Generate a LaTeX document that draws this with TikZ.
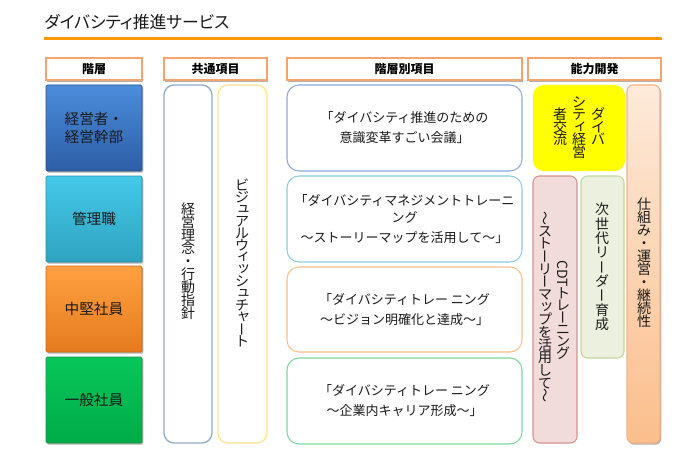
\documentclass[tikz,border=0pt]{standalone}
\usepackage{fontspec}
\usepackage{graphicx}
\setmainfont{Noto Sans CJK JP}
\newfontfamily\jpp{Noto Sans CJK JP}[RawFeature=+palt]
\usetikzlibrary{shadows}

\definecolor{ttlorange}{HTML}{FF9900}
\definecolor{hdrline}{HTML}{F4A46C}
\definecolor{blueT}{HTML}{4C8DDC}\definecolor{blueB}{HTML}{2C5EA6}\definecolor{blueL}{HTML}{2A5288}
\definecolor{cyanT}{HTML}{45C8E8}\definecolor{cyanB}{HTML}{2EA3C0}\definecolor{cyanL}{HTML}{2B8FA8}
\definecolor{oranT}{HTML}{FFA142}\definecolor{oranB}{HTML}{E57B1E}\definecolor{oranL}{HTML}{C86A1A}
\definecolor{greenT}{HTML}{08C65A}\definecolor{greenB}{HTML}{00AC48}\definecolor{greenL}{HTML}{1E8F4A}
\definecolor{c1line}{HTML}{8EA8CC}
\definecolor{c2line}{HTML}{FFE38C}
\definecolor{m1line}{HTML}{8EAADC}
\definecolor{m2line}{HTML}{8CCCDD}
\definecolor{m3line}{HTML}{FBBE8C}
\definecolor{m4line}{HTML}{7ED6A0}
\definecolor{yel}{HTML}{FFFF00}
\definecolor{cdtfill}{HTML}{F2DCDB}\definecolor{cdtline}{HTML}{D6918F}
\definecolor{ngfill}{HTML}{EBF1DE}\definecolor{ngline}{HTML}{C3D69B}
\definecolor{pT}{HTML}{FDEADA}\definecolor{pB}{HTML}{FBBE8C}\definecolor{pline}{HTML}{F5B183}
\definecolor{txt}{HTML}{1A1A1A}

% vertical text machinery
\makeatletter
\newdimen\vtp \newdimen\vtw \newdimen\vtd \newbox\vtbox
\def\vt@end{\vt@end}
\newcommand\vrow[1]{%
  \setbox\vtbox=\hbox{\vrule height .88em depth .12em width 0pt\relax #1}%
  \vtd=\ht\vtbox \advance\vtd by \dp\vtbox
  \ifdim\vtd>1.5em\relax\else\vtd=\vtp\fi
  \vbox to \vtd{\vss\hbox to \vtw{\hss\box\vtbox\hss}\vss}}
\def\vt@loop#1{\ifx\vt@end#1\else\vrow{#1}\expandafter\vt@loop\fi}
\newcommand\vtext[2]{\vbox{\offinterlineskip\vtp=#1\relax\vtw=1.3em\relax\vt@loop#2\vt@end}}
\makeatother
\newcommand\vl{\rotatebox[origin=c]{90}{\vrule height .88em depth .12em width 0pt ー}}
\newcommand\vw{\rotatebox[origin=c]{90}{\vrule height .88em depth .12em width 0pt ～}}
\newcommand\vlat[1]{\rotatebox[origin=c]{-90}{\vrule height .88em depth .12em width 0pt #1}}
\newcommand\sk[1]{\raisebox{.14em}[0pt][0pt]{\hspace{.22em}#1}}

% box node from corners (px)
\newcommand\bx[7][]{\node[#1, inner sep=0pt, outer sep=0pt,
  minimum width={(#4-#2)*0.75pt}, minimum height={(#5-#3)*0.75pt}]
  (#6) at ({(#2+#4)/2},{(#3+#5)/2}) {#7};}

\begin{document}
\begin{tikzpicture}[x=0.75pt,y=-0.75pt,
  sh/.style={drop shadow={shadow xshift=1pt,shadow yshift=-1.3pt,opacity=.3,fill=black}},
  hdr/.style={draw=hdrline, line width=0.9pt, fill=white, sh,
    font=\bfseries\fontsize{9}{11}\selectfont, text=black},
  lvl/.style={draw=#1L, line width=0.5pt, top color=#1T, bottom color=#1B,
    rounded corners=1pt, sh, font=\fontsize{11}{13.5}\selectfont, text=txt, align=center},
  cbox/.style={draw=#1, line width=0.9pt, fill=white, rounded corners=7.5pt},
  mbox/.style={draw=#1, line width=0.8pt, fill=white, rounded corners=9pt,
    font=\fontsize{9.75}{15}\selectfont, text=txt, align=center},
  vt/.style={inner sep=0pt, font=\fontsize{10.5}{12}\selectfont, text=txt},
]
\fill[white] (0,0) rectangle (700,460);
\useasboundingbox (0,0) rectangle (700,460);

% title
\node[anchor=west, inner sep=0pt, font=\jpp\fontsize{12.6}{15}\selectfont, text=txt]
  (title) at (44,22.5) {ダイバシティ推進サービス};
\fill[ttlorange] (44,37) rectangle (662,40);

% headers
\bx[hdr]{46}{58}{142}{80}{h1}{階層}
\bx[hdr]{164}{58}{267}{80}{h2}{共通項目}
\bx[hdr]{287}{58}{522}{80}{h3}{階層別項目}
\bx[hdr]{528}{58}{661}{80}{h4}{能力開発}

% level boxes
\bx[lvl=blue]{46}{85}{142}{171}{l1}{経営者・\\経営幹部}
\bx[lvl=cyan]{46}{176}{142}{262}{l2}{管理職}
\bx[lvl=oran]{46}{266}{142}{352}{l3}{中堅社員}
\bx[lvl=green]{46}{357}{142}{443}{l4}{一般社員}

% common items
\bx[cbox=c1line]{164}{85}{212}{443}{c1}{}
\bx[cbox=c2line]{218}{85}{267}{443}{c2}{}
\node[vt] (c1t) at (188,261) {\vtext{9.75pt}{経営理念・行動指針}};
\node[vt] (c2t) at (242,263) {\vtext{9pt}{ビジ{\sk{ュ}}アルウ{\sk{ィ}}{\sk{ッ}}シ{\sk{ュ}}チ{\sk{ャ}}{\vl}ト}};

% per-level items
\bx[mbox=m1line]{287}{85}{522}{171}{m1}{「ダイバシティ推進のための\\意識変革すごい会議」}
\bx[mbox=m2line]{287}{176}{522}{262}{m2}{「ダイバシティマネジメントトレーニ\\[-2.25pt]ング\\～ストーリーマップを活用して～」}
\bx[mbox=m3line]{287}{267}{522}{352}{m3}{「ダイバシティトレー ニング\\～ビジョン明確化と達成～」}
\bx[mbox=m4line]{287}{358}{522}{444}{m4}{「ダイバシティトレー ニング\\～企業内キャリア形成～」}

% ability development
\bx[fill=yel, rounded corners=8pt]{533}{85}{625}{171}{y}{}
\node[vt] (y1) at (598,127) {\vtext{9.4pt}{ダイバ}};
\node[vt] (y2) at (579,127) {\vtext{9.4pt}{シテ{\sk{ィ}}経営}};
\node[vt] (y3) at (560,127) {\vtext{9.4pt}{者交流}};

\bx[fill=cdtfill, draw=cdtline, line width=0.8pt, rounded corners=5pt]{533}{176}{577}{443}{cdt}{}
\node[vt] (cdt1) at (563,310) {\vtext{9pt}{{\vlat{CDT}}トレ{\vl}ニング}};
\node[vt] (cdt2) at (545,307) {\vtext{9.5pt}{{\vw}スト{\vl}リ{\vl}マ{\sk{ッ}}プを活用して{\vw}}};

\bx[fill=ngfill, draw=ngline, line width=0.8pt, rounded corners=5pt]{581}{176}{624}{358}{ng}{}
\node[vt] (ngt) at (602,267) {\vtext{10.8pt}{次世代リ{\vl}ダ{\vl}育成}};

\bx[top color=pT, bottom color=pB, draw=pline, line width=0.8pt, rounded corners=4.5pt, sh]{627}{85}{660}{443}{p}{}
\node[vt] (pt) at (644,263) {\vtext{9.75pt}{仕組み・運営・継続性}};
\end{tikzpicture}
\end{document}
